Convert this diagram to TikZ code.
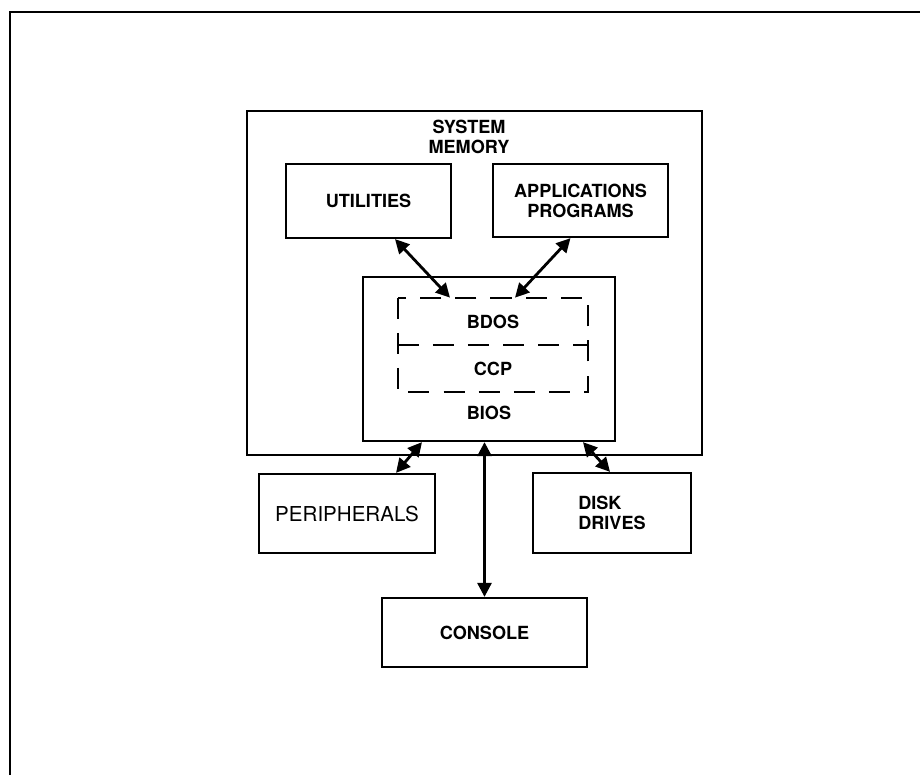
\documentclass[tikz,border=0pt]{standalone}
\usepackage{fontspec}
\setmainfont{TeX Gyre Heros}
\usetikzlibrary{arrows.meta,calc}

\begin{document}
\begin{tikzpicture}[x=0.02cm,y=-0.02cm,
  box/.style={draw,line width=1.3pt,inner sep=0pt,align=center,font=\bfseries\fontsize{10.3}{11.4}\selectfont},
  dashline/.style={line width=1.3pt,dash pattern=on 12pt off 8pt},
  layer/.style={inner sep=0pt,minimum width=3.8cm,minimum height=0.94cm,font=\bfseries\fontsize{10.3}{11.4}\selectfont},
  txt/.style={align=center,font=\bfseries\fontsize{10.3}{11.4}\selectfont},
  link/.style={{Triangle[length=8pt,width=8pt]}-{Triangle[length=8pt,width=8pt]},line width=1.6pt}]
\useasboundingbox (0,0) rectangle (920,775);
\draw[line width=1.7pt] (10,775) -- (10,12) -- (920,12);
% memory and its contents
\node[box,minimum width=9.1cm,minimum height=6.88cm] (mem) at (474.5,283) {};
\node[txt] (memtxt) at (469,137) {SYSTEM\\MEMORY};
\node[box,minimum width=3.3cm,minimum height=1.48cm] (util) at (368.5,201) {UTILITIES};
\node[box,minimum width=3.5cm,minimum height=1.46cm] (apps) at (580.5,200.5) {APPLICATIONS\\PROGRAMS};
\node[box,minimum width=5.04cm,minimum height=3.28cm] (bios) at (489,359) {};
\node[txt] (biostxt) at (489,413) {BIOS};
\node[layer] (bdos) at (493,321.5) {BDOS};
\node[layer] (ccp) at (493,368.5) {CCP};
\draw[dashline] (bdos.north west) rectangle (ccp.south east);
\draw[dashline] (bdos.south west) -- (bdos.south east);
% devices
\node[box,minimum width=3.52cm,minimum height=1.58cm,font=\fontsize{11.7}{13}\selectfont] (peri) at (347,513.5) {PERIPHERALS};
\node[box,minimum width=3.16cm,minimum height=1.6cm,align=left] (disk) at (612,513) {DISK\\DRIVES};
\node[box,minimum width=4.1cm,minimum height=1.38cm] (cons) at (484.5,632.5) {CONSOLE};
% links
\draw[link] ($(util.south)+(26.5,0)$) -- ($(bdos.north)+(-43,0)$);
\draw[link] ($(apps.south)+(-10,0)$) -- ($(bdos.north)+(22,0)$);
\draw[link] ($(bios.south)+(-67,0)$) -- ($(peri.north)+(49,0)$);
\draw[link] ($(bios.south)+(94,0)$) -- ($(disk.north)+(-2,0)$);
\draw[link] (bios.south -| cons.north) -- (cons.north);
%\node at (489,300) {};
\end{tikzpicture}
\end{document}
